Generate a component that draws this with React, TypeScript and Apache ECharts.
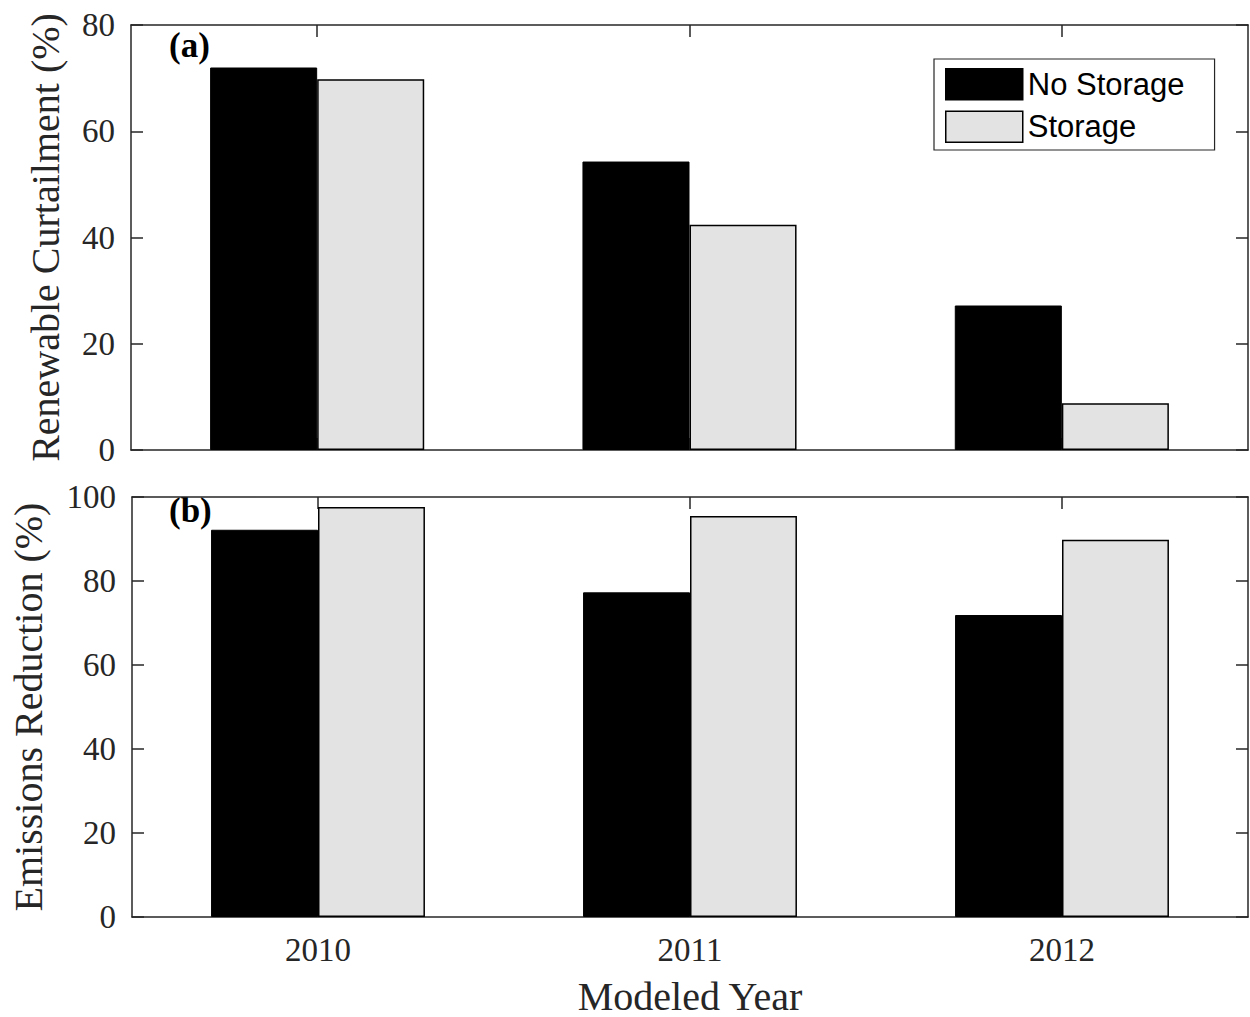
import React, { useEffect, useRef } from "react";
import * as echarts from "echarts";

const years = ["2010", "2011", "2012"];
const curtailmentNoStorage = [72.0, 54.3, 27.2];
const curtailmentStorage = [69.8, 42.4, 8.8];
const emissionsNoStorage = [92.2, 77.3, 71.9];
const emissionsStorage = [97.6, 95.5, 89.8];
const seriesNames = ["No Storage", "Storage"];
const panelLabels = ["(a)", "(b)"];

const AX = "#262626";
const SERIF = "'Liberation Serif', 'Times New Roman', serif";
const SANS = "'Liberation Sans', Arial, Helvetica, sans-serif";

export default function App() {
  const ref = useRef<HTMLDivElement>(null);
  useEffect(() => {
    if (!ref.current) return;
    const chart = echarts.init(ref.current, null, { renderer: "svg" });
    const axisLine = { show: true, onZero: false, lineStyle: { color: AX, width: 1.5 } };
    const tick = { show: true, inside: true, length: 12, alignWithLabel: true, lineStyle: { color: AX, width: 1.5 } };
    const xAxis = (grid: number, pos: "top" | "bottom", labels: boolean, name?: string) => ({
      type: "category",
      gridIndex: grid,
      position: pos,
      data: years,
      axisLine,
      axisTick: tick,
      axisLabel: labels
        ? { show: true, color: AX, fontFamily: SERIF, fontSize: 33, margin: 16 }
        : { show: false },
      splitLine: { show: false },
      name: name,
      nameLocation: "middle",
      nameGap: 59,
      nameTextStyle: { color: AX, fontFamily: SERIF, fontSize: 40 },
    });
    const yAxis = (grid: number, pos: "left" | "right", max: number, labels: boolean, name?: string, gap?: number) => ({
      type: "value",
      gridIndex: grid,
      position: pos,
      min: 0,
      max: max,
      interval: 20,
      axisLine,
      axisTick: { show: true, inside: true, length: 12, lineStyle: { color: AX, width: 1.5 } },
      axisLabel: labels
        ? { show: true, color: AX, fontFamily: SERIF, fontSize: 33, margin: 16 }
        : { show: false },
      splitLine: { show: false },
      name: name,
      nameLocation: "middle",
      nameGap: gap,
      nameTextStyle: { color: AX, fontFamily: SERIF, fontSize: 40 },
    });
    const barBase = { type: "bar", barGap: "0%", barCategoryGap: "42.5%" };
    const noStyle = { color: "#000000", borderColor: "#000000", borderWidth: 1 };
    const stStyle = { color: "#e3e3e3", borderColor: "#000000", borderWidth: 1.5 };
    chart.setOption({
      animation: false,
      backgroundColor: "#ffffff",
      grid: [
        { left: 131, right: 2, top: 25, height: 425 },
        { left: 131, right: 2, top: 497, height: 423 },
      ],
      xAxis: [
        xAxis(0, "bottom", false),
        xAxis(0, "top", false),
        xAxis(1, "bottom", true, "Modeled Year"),
        xAxis(1, "top", false),
      ],
      yAxis: [
        yAxis(0, "left", 80, true, "Renewable Curtailment (%)", 66),
        yAxis(0, "right", 80, false),
        yAxis(1, "left", 100, true, "Emissions Reduction (%)", 84),
        yAxis(1, "right", 100, false),
      ],
      legend: {
        data: seriesNames,
        orient: "vertical",
        left: 934,
        top: 59,
        icon: "rect",
        itemWidth: 77,
        itemHeight: 31,
        itemGap: 10,
        itemStyle: { borderWidth: 1.5 },
        padding: [9, 30, 7, 11],
        borderColor: AX,
        borderWidth: 1.2,
        backgroundColor: "#ffffff",
        textStyle: { color: "#000000", fontFamily: SANS, fontSize: 31, lineHeight: 31 },
        selectedMode: false,
      },
      graphic: [
        {
          type: "text",
          left: 169,
          top: 28,
          style: { text: panelLabels[0], font: `bold 35px ${SERIF}`, fill: "#000" },
        },
        {
          type: "text",
          left: 169,
          top: 493,
          style: { text: panelLabels[1], font: `bold 35px ${SERIF}`, fill: "#000" },
        },
      ],
      series: [
        { ...barBase, name: seriesNames[0], xAxisIndex: 0, yAxisIndex: 0, data: curtailmentNoStorage, itemStyle: noStyle },
        { ...barBase, name: seriesNames[1], xAxisIndex: 0, yAxisIndex: 0, data: curtailmentStorage, itemStyle: stStyle },
        { ...barBase, name: seriesNames[0], xAxisIndex: 2, yAxisIndex: 2, data: emissionsNoStorage, itemStyle: noStyle },
        { ...barBase, name: seriesNames[1], xAxisIndex: 2, yAxisIndex: 2, data: emissionsStorage, itemStyle: stStyle },
      ],
    });
    return () => chart.dispose();
  }, []);
  return (
    <div
      ref={ref}
      style={{ position: "absolute", left: 0, top: 0, width: 1250, height: 1017, background: "#fff" }}
    />
  );
}
